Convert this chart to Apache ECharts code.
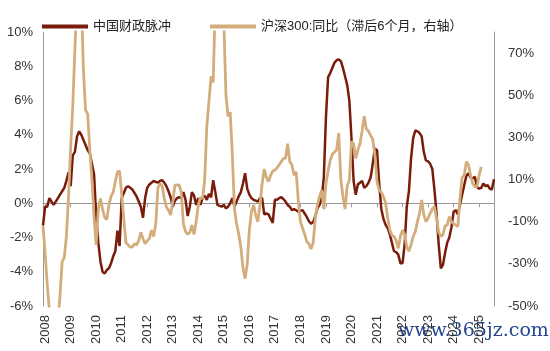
<!DOCTYPE html>
<html>
<head>
<meta charset="utf-8">
<script src="https://cdn.jsdelivr.net/npm/echarts@6/dist/echarts.min.js"></script>
<style>
  html, body { margin: 0; padding: 0; background: #fff; }
  #chart { width: 550px; height: 351px; }
</style>
</head>
<body>
<div id="chart"></div>
<script>
// Meses: 2007-12 .. 2025-08
const months = [];
for (let y = 2007; y <= 2025; y++) {
  for (let m = 1; m <= 12; m++) {
    if ((y === 2007 && m < 12) || (y === 2025 && m > 8)) continue;
    months.push(y + "-" + String(m).padStart(2, "0"));
  }
}

// 中国财政脉冲 (eje izquierdo, %)
const fiscalPulse = [
  -1.3,
  -0.2, -0.2, 0.3, 0.1, -0.1, 0.1, 0.3, 0.5, 0.7, 0.9, 1.3, 1.8,
  1.0, 2.8, 3.0, 3.9, 4.2, 4.0, 3.7, 3.4, 3.1, 2.9, 2.3, 1.7,
  -0.8, -2.3, -3.4, -4.0, -4.1, -3.9, -3.8, -3.5, -3.1, -2.8, -1.6, -2.5,
  0.3, 0.6, 0.9, 1.0, 0.9, 0.8, 0.6, 0.4, 0.1, -0.2, -0.85, 0.3,
  0.9, 1.1, 1.2, 1.3, 1.25, 1.2, 1.3, 1.35, 1.2, 1.0, 0.7, 0.35,
  -0.2, 0.15, 0.3, 0.35, 0.3, 0.65, 0.2, -0.75, -0.2, 0.65, 0.45, -0.1,
  0.3, -0.1, 0.3, 0.45, 0.2, 0.55, 0.35, 1.35, 0.65, -0.1, -0.15, -0.2,
  -0.1, -0.3, -0.2, 0.0, 0.3, -0.2, 0.1, 0.4, 0.65, 1.15, 1.75, 0.85,
  0.5, 0.3, 0.2, 0.15, 0.1, 0.3, 0.3, -0.65, -0.6, -0.65, -0.9, -1.15,
  0.2, 0.2, 0.3, 0.35, 0.25, 0.1, -0.1, -0.2, -0.4, -0.35, -0.4, -0.5,
  -0.45, -0.4, -0.6, -0.8, -1.05, -1.2, -1.1, -0.75, -0.3, -0.1, 0.3, 1.5,
  5.0, 7.35, 7.6, 7.9, 8.2, 8.35, 8.4, 8.3, 7.9, 7.4, 6.9, 6.0,
  3.8, 1.3, 0.5, 1.1, 1.2, 1.3, 0.9, 1.0, 1.2, 1.5, 2.3, 3.2,
  3.1, 1.2, -0.3, -0.9, -1.25, -1.45, -1.8, -2.3, -2.8, -2.85, -3.0, -3.5,
  -3.5, -2.4, -0.2, 0.7, 2.6, 3.8, 4.25, 4.2, 4.1, 3.9, 3.0, 2.5,
  2.45, 2.3, 2.0, 0.8, -0.6, -2.4, -3.8, -3.6, -2.9, -2.3, -2.0, -1.4,
  -0.5, -0.4, -0.65, -0.1, 0.5, 1.05, 1.6, 1.75, 1.5, 1.45, 1.55, 0.95,
  0.85, 0.9, 1.15, 1.0, 1.05, 0.85, 0.8, 1.4
];

// 沪深300:同比（滞后6个月） (eje derecho, %)
const csi300Yoy = [
  -12,
  -25, -40, -52, -60, -66, -68, -58, -45, -29, -27, -17, 2,
  25, 45, 72, 95, 108, 98, 62, 43, 41, 24, 10, -8,
  -21, -4, 1, -4, -8, -9, -2, 2, 4, 9, 13.7, 14,
  3, -9, -20, -21, -22, -22, -20.5, -21, -19, -15, -18, -20.5,
  -19, -18, -14, -17, -11, 6, 8, 7, 1, -3, -4.5, -6.8,
  -0.5, 7.4, 7.5, 7.4, 4, -11, -14.7, -16, -15, -11.6, -16, -10,
  -2, 1.5, 1, 10, 35, 47, 59, 56, 95, 115, 120, 105,
  85, 50, 40, 42, 22, -4, -11, -16, -22, -32, -37, -30,
  -14, -5, -2, -7, -10, -2, 8, 15, 11, 9, 12, 14,
  14.5, 15.5, 17, 18.5, 20, 20, 27, 18.5, 17, 12, 13.7, 0,
  -10, -13, -16, -19.5, -20.5, -23, -20, -8.4, -2, 2, 5, -4,
  8, 14, 19, 22, 23, 24, 32, 10, 2, -4, 7, 9.8,
  28, 27, 20, 24, 27, 33, 40, 34, 33, 31, 29, 22,
  9, 5, 4, 2, -1, -8, -14, -16.5, -17, -19, -22.6, -17,
  -14, -16, -22, -24, -21, -17, -14.7, -10, -6, 0.3, -6.8, -10,
  -8.4, -6, -4, -2.9, -8.4, -15, -17, -16.3, -12, -11.6, -7.6, -10,
  -11, -11.6, -12.4, 1, 11, 12, 18.5, 17, 12, 8, 6.6, 6.6,
  12, 16, null, null, null, null, null, null
];

const leftTicks = { min: -6, max: 10, step: 2 };
const rightTicks = { min: -50, max: 80, step: 20, lastLabel: 70 };

const font = "'Liberation Sans', 'Noto Sans CJK SC', sans-serif";
const isJan = (idx, val) => val.slice(5) === "01";

const chart = echarts.init(document.getElementById("chart"));

const option = {
  animation: false,
  textStyle: { fontFamily: font },
  grid: { left: 43, right: 56, top: 32, bottom: 45, containLabel: false },
  legend: {
    left: 37,
    top: 15,
    itemWidth: 46,
    itemHeight: 4,
    itemGap: 39,
    icon: "rect",
    textStyle: { fontSize: 13, color: "#222", fontFamily: font },
    data: ["中国财政脉冲", "沪深300:同比（滞后6个月，右轴）"],
  },
  xAxis: [
    {
      type: "category",
      data: months,
      boundaryGap: false,
      position: "bottom",
      axisLine: { show: false, onZero: false },
      axisTick: { show: false },
      axisLabel: {
        interval: isJan,
        rotate: 90,
        margin: 9,
        fontSize: 13,
        color: "#333",
        formatter: (v) => v.slice(0, 4),
      },
      splitLine: { show: false },
    },
    {
      type: "category",
      data: months,
      boundaryGap: false,
      position: "top",
      axisLine: { show: true, onZero: true, onZeroAxisIndex: 0, lineStyle: { color: "#999", width: 1 } },
      axisTick: { show: true, inside: true, length: 4, interval: isJan, lineStyle: { color: "#999" } },
      axisLabel: { show: false },
      splitLine: { show: false },
    },
  ],
  yAxis: [
    {
      type: "value",
      min: leftTicks.min,
      max: leftTicks.max,
      interval: leftTicks.step,
      axisLine: { show: true, lineStyle: { color: "#999" } },
      axisTick: { show: false },
      splitLine: { show: false },
      axisLabel: { fontSize: 13, color: "#333", margin: 10, formatter: "{value}%" },
    },
    {
      type: "value",
      position: "right",
      min: rightTicks.min,
      max: rightTicks.max,
      interval: rightTicks.step,
      axisLine: { show: true, lineStyle: { color: "#999" } },
      axisTick: { show: false },
      splitLine: { show: false },
      axisLabel: {
        fontSize: 13,
        color: "#333",
        margin: 14,
        formatter: (v) => (v > rightTicks.lastLabel ? "" : v + "%"),
      },
    },
  ],
  series: [
    {
      name: "中国财政脉冲",
      type: "line",
      data: fiscalPulse,
      yAxisIndex: 0,
      showSymbol: false,
      lineStyle: { color: "#7a1c0a", width: 2.5 },
      itemStyle: { color: "#7a1c0a" },
    },
    {
      name: "沪深300:同比（滞后6个月，右轴）",
      type: "line",
      data: csi300Yoy,
      yAxisIndex: 1,
      showSymbol: false,
      lineStyle: { color: "#d3ad7c", width: 2.8 },
      itemStyle: { color: "#d3ad7c" },
    },
  ],
  graphic: [
    {
      type: "text",
      left: 397,
      top: 321,
      style: {
        text: "www.365jz.com",
        fontFamily: "'DejaVu Serif', serif",
        fontSize: 19,
        fill: "#24478f",
        stroke: "#fff",
        lineWidth: 2,
      },
    },
  ],
};

chart.setOption(option);
</script>
</body>
</html>
